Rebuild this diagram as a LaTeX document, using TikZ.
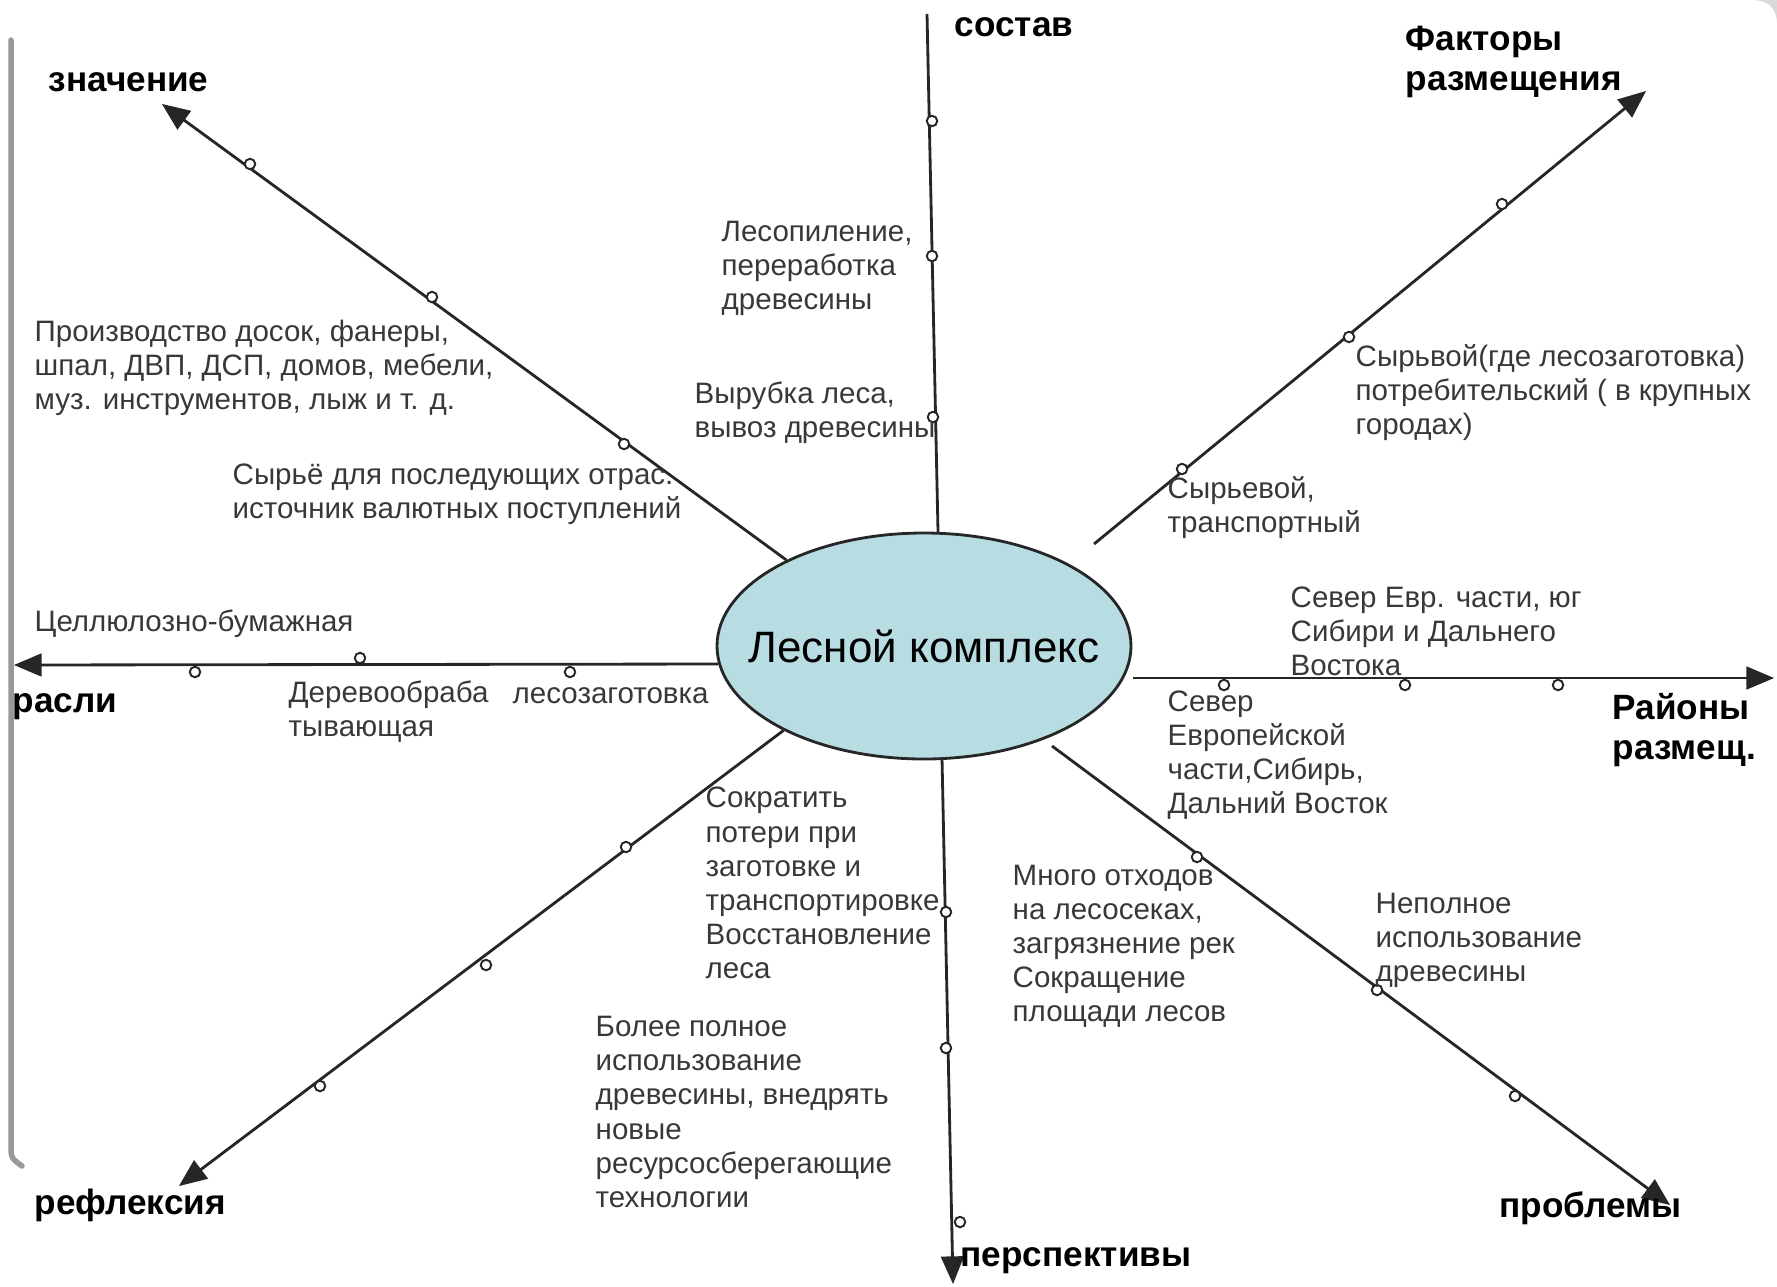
\documentclass[tikz,border=0pt]{standalone}
\usepackage{fontspec}
\setmainfont{Liberation Sans}
\usetikzlibrary{arrows,shapes.geometric}
\definecolor{icefill}{RGB}{183,220,226}

\begin{document}
\begin{tikzpicture}[x=0.1mm,y=-0.1mm,>=triangle 45]
            \tikzstyle{axis} = [draw=black!85,line width=0.8pt];
            \tikzstyle{bead} = [circle,draw=black!85,fill=white,line width=0.55pt,inner sep=0pt,minimum size=1.05mm];
            \tikzstyle{note} = [anchor=west,align=left,inner sep=0pt,text=black!78,font=\fontsize{8.4}{9.7}\selectfont];
            \tikzstyle{head} = [anchor=west,align=left,inner sep=0pt,font=\fontsize{10}{11.2}\selectfont\bfseries];
            \useasboundingbox (0,0) rectangle (1777,1286);
            % frame of the slide
            \draw[black!40,line width=0.55mm,line cap=round] (11,40) -- (11,1145) .. controls (11,1158) .. (22,1166);
            \fill[black!15] (1752,0) -- (1777,0) -- (1777,24) .. controls (1777,8) and (1768,0) .. cycle;
            % centre
            \node[ellipse,draw=black!85,fill=icefill,line width=0.8pt,inner xsep=-3mm,inner ysep=0pt,minimum width=41.4mm,minimum height=22.6mm,font=\fontsize{12.5}{14}\selectfont] (c) at (924,646) {Лесной комплекс};
            % ends of the rays
            \coordinate (n) at (927,14);
            \coordinate (nw) at (162,104);
            \coordinate (ne0) at (1094,544);
            \coordinate (ne) at (1646,91);
            \coordinate (w) at (14,665);
            \coordinate (e0) at (1133,678);
            \coordinate (e) at (1774,678);
            \coordinate (sw) at (179,1186);
            \coordinate (s) at (953,1284);
            \coordinate (se0) at (1052,746);
            \coordinate (se) at (1670,1205);
            \draw[axis] (c.83) -- (n);
            \draw[axis,->] (c.148) -- (nw);
            \draw[axis,->] (ne0) -- (ne);
            \draw[axis,->] (c.185) -- (w);
            \draw[axis,->] (e0) -- (e);
            \draw[axis,->] (c.211) -- (sw);
            \draw[axis,->] (c.279) -- (s);
            \draw[axis,->] (se0) -- (se);
            % beads on the rays
            \foreach \x/\y [count=\i] in {932/121,932/256,933/417,
                        250/164,432/297,624/444,
                        1182/469,1349/337,1502/204,
                        195/672,360/658,570/672,
                        1224/685,1405/685,1558/685,
                        626/847,486/965,320/1086,
                        946/912,946/1048,960/1222,
                        1197/857,1377/990,1515/1096}
                \node[bead] (b\i) at (\x,\y) {};
            % ray titles
            \node[head] (t1) at (954,27) {состав};
            \node[head] (t2) at (48,82) {значение};
            \node[head] (t3) at (1405,62) {Факторы\\размещения};
            \node[head] (t4) at (12,707) {расли};
            \node[head] (t5) at (1612,730) {Районы\\размещ.};
            \node[head] (t6) at (34,1205) {рефлексия};
            \node[head] (t7) at (960,1261) {перспективы};
            \node[head] (t8) at (1499,1208) {проблемы};
            % notes
            \node[note] (a1) at (721,268) {Лесопиление,\\переработка\\древесины};
            \node[note] (a2) at (694,413) {Вырубка леса,\\вывоз древесины};
            \node[note] (a3) at (34,368) {Производство досок, фанеры,\\шпал, ДВП, ДСП, домов, мебели,\\муз. инструментов, лыж и т. д.};
            \node[note] (a4) at (232,494) {Сырьё для последующих отрас.\\источник валютных поступлений};
            \node[note] (a5) at (34,624) {Целлюлозно-бумажная};
            \node[note] (a6) at (288,712) {Деревообраба\\тывающая};
            \node[note] (a7) at (512,696) {лесозаготовка};
            \node[note] (a8) at (1355,393) {Сырьвой(где лесозаготовка)\\потребительский ( в крупных\\городах)};
            \node[note] (a9) at (1167,508) {Сырьевой,\\транспортный};
            \node[note] (a10) at (1290,631) {Север Евр. части, юг\\Сибири и Дальнего\\Востока};
            \node[note] (a11) at (1167,755) {Север\\Европейской\\части,Сибирь,\\Дальний Восток};
            \node[note] (a12) at (705,883) {Сократить\\потери при\\заготовке и\\транспортировке\\Восстановление\\леса};
            \node[note] (a13) at (595,1112) {Более полное\\использование\\древесины, внедрять\\новые\\ресурсосберегающие\\технологии};
            \node[note] (a14) at (1012,946) {Много отходов\\на лесосеках,\\загрязнение рек\\Сокращение\\площади лесов};
            \node[note] (a15) at (1375,940) {Неполное\\использование\\древесины};
\end{tikzpicture}
\end{document}
